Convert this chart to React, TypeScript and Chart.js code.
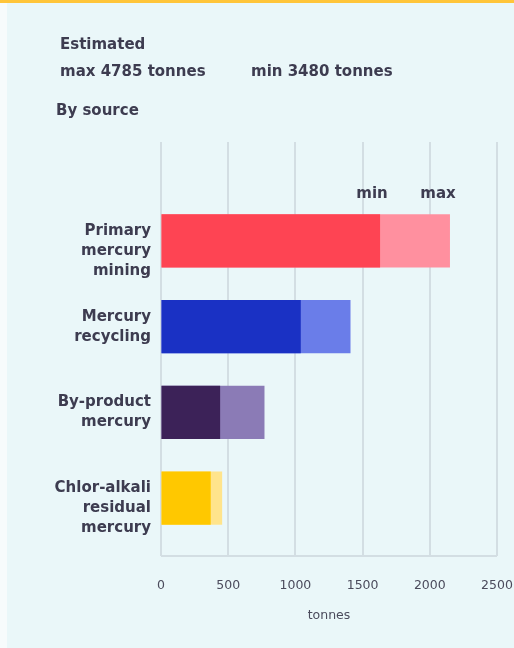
import React, { useEffect, useRef } from "react";
import { Chart, registerables } from "chart.js";

Chart.register(...registerables);

// ---- data ----
const categories: string[][] = [
  ["", "Primary", "mercury", "mining"],
  ["Mercury", "recycling"],
  ["By-product", "mercury"],
  ["", "Chlor-alkali", "residual", "mercury"],
];
const minValues = [1630, 1040, 440, 370];
const maxValues = [2150, 1410, 770, 455];
const xTickValues = [0, 500, 1000, 1500, 2000, 2500];
const darkColors = ["#fe4453", "#1a31c4", "#3c2258", "#ffc800"];
const lightColors = ["#ff909f", "#6a7de9", "#8b7bb6", "#ffe48c"];
const estimatedMax = 4785;
const estimatedMin = 3480;
const unitLabel = "tonnes";

const textColor = "#3d3c50";
const gridColor = "#d3dee3";

const gridPlugin = {
  id: "customGrid",
  beforeDatasetsDraw(chart: any) {
    const { ctx, chartArea, scales } = chart;
    const x = scales.x;
    const top = chartArea.top - 56;
    const bottom = chartArea.bottom + 15;
    ctx.save();
    ctx.strokeStyle = gridColor;
    ctx.lineWidth = 2;
    xTickValues.forEach((v) => {
      const px = Math.round(x.getPixelForValue(v));
      ctx.beginPath();
      ctx.moveTo(px, top);
      ctx.lineTo(px, bottom);
      ctx.stroke();
    });
    ctx.beginPath();
    ctx.moveTo(x.getPixelForValue(xTickValues[0]), bottom);
    ctx.lineTo(x.getPixelForValue(xTickValues[xTickValues.length - 1]), bottom);
    ctx.stroke();
    ctx.restore();
  },
  afterDatasetsDraw(chart: any) {
    const { ctx, chartArea, scales } = chart;
    const x = scales.x;
    ctx.save();
    ctx.fillStyle = textColor;
    ctx.font = "bold 15px 'DejaVu Sans'";
    ctx.textAlign = "center";
    ctx.textBaseline = "middle";
    const y = chartArea.top - 4;
    ctx.fillText("min", x.getPixelForValue(minValues[0]) - 8, y);
    ctx.fillText("max", x.getPixelForValue(maxValues[0]) - 12, y);
    ctx.restore();
  },
};

export default function App() {
  const canvasRef = useRef<HTMLCanvasElement | null>(null);

  useEffect(() => {
    if (!canvasRef.current) return;
    const chart = new Chart(canvasRef.current, {
      type: "bar",
      data: {
        labels: categories as any,
        datasets: [
          {
            label: "min",
            data: minValues,
            backgroundColor: darkColors,
            borderWidth: 0,
            grouped: false,
            categoryPercentage: 1,
            barPercentage: 0.62,
          } as any,
          {
            label: "max",
            data: maxValues,
            backgroundColor: lightColors,
            borderWidth: 0,
            grouped: false,
            categoryPercentage: 1,
            barPercentage: 0.62,
          } as any,
        ],
      },
      options: {
        indexAxis: "y",
        animation: false,
        responsive: false,
        devicePixelRatio: 1,
        layout: { padding: { top: 198, left: 10, right: 17, bottom: 25 } },
        plugins: {
          legend: { display: false },
          tooltip: { enabled: false },
        },
        scales: {
          x: {
            type: "linear",
            min: 0,
            max: 2500,
            grid: {
              display: true,
              drawOnChartArea: false,
              drawTicks: true,
              tickLength: 37,
              color: "rgba(0,0,0,0)",
            },
            border: { display: false },
            ticks: {
              stepSize: 500,
              padding: 0,
              color: "#4b4b5c",
              font: { family: "'DejaVu Sans'", size: 12.5 },
              maxRotation: 0,
              callback: (v: any) => String(v),
            },
            title: {
              display: true,
              text: unitLabel,
              color: "#4b4b5c",
              font: { family: "'DejaVu Sans'", size: 12.5 },
              padding: { top: 15, bottom: 0 },
            },
          },
          y: {
            type: "category",
            grid: { display: false, drawTicks: false },
            border: { display: false },
            ticks: {
              autoSkip: false,
              padding: 10,
              color: textColor,
              font: { family: "'DejaVu Sans'", size: 15, weight: "bold", lineHeight: 1.333 },
            },
            afterFit: (scale: any) => {
              scale.width = 151;
            },
          },
        },
      },
      plugins: [gridPlugin],
    } as any);
    return () => chart.destroy();
  }, []);

  const headerStyle: React.CSSProperties = {
    position: "absolute",
    fontFamily: "'DejaVu Sans'",
    fontWeight: "bold",
    fontSize: 15,
    lineHeight: "18px",
    color: textColor,
    whiteSpace: "nowrap",
  };

  return (
    <div style={{ position: "relative", width: 514, height: 648, background: "#f7fbfc", overflow: "hidden" }}>
      <style>{"body{margin:0}"}</style>
      <div style={{ position: "absolute", left: 0, top: 0, width: 514, height: 3, background: "#ffc53a" }} />
      <div style={{ position: "absolute", left: 7, top: 3, width: 507, height: 645, background: "#eaf7f9" }} />
      <canvas ref={canvasRef} width={514} height={648} style={{ position: "absolute", left: 0, top: 0 }} />
      <div style={{ ...headerStyle, left: 60, top: 35 }}>Estimated</div>
      <div style={{ ...headerStyle, left: 60, top: 62 }}>max {estimatedMax} tonnes</div>
      <div style={{ ...headerStyle, left: 251, top: 62 }}>min {estimatedMin} tonnes</div>
      <div style={{ ...headerStyle, left: 56, top: 101 }}>By source</div>
    </div>
  );
}
